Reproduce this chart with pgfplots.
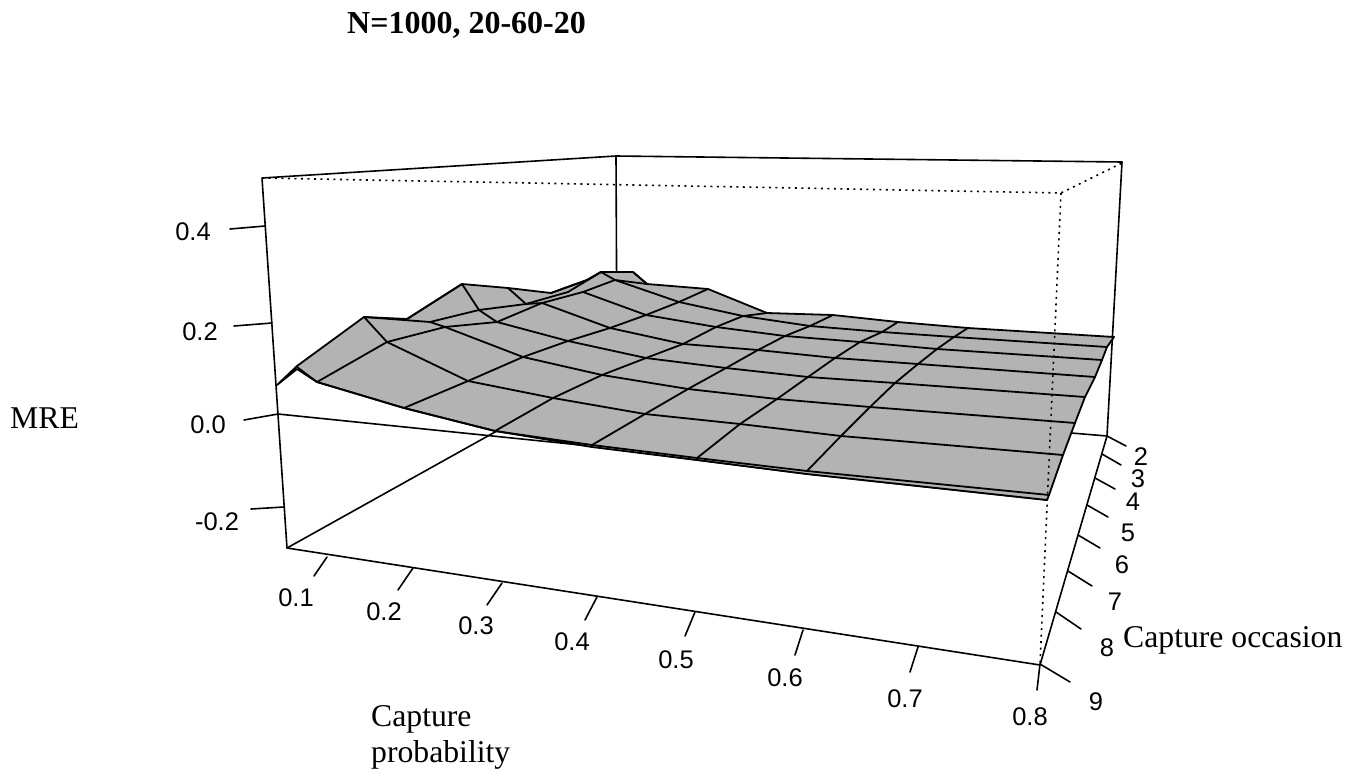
\documentclass[border=0pt]{standalone}
\usepackage{fontspec}
\usepackage{pgfplots}
\pgfplotsset{compat=1.18}
\setmainfont{Liberation Serif}
\newfontfamily\ticksfont{Liberation Sans}
\definecolor{surf}{RGB}{179,179,179}
\newcommand{\tklab}[2]{\node[anchor=center,inner sep=0pt,font=\ticksfont\fontsize{25.5}{28}\selectfont] at (axis cs:#1) {#2};}
\newcommand{\msh}[1]{\addplot[black,line width=1.8pt,line join=round,line cap=round] coordinates {#1};}
\newcommand{\bxl}[1]{\addplot[black,line width=1.6pt,line join=round,line cap=round] coordinates {#1};}
\newcommand{\dtl}[1]{\addplot[black,line width=1.6pt,dash pattern=on 2pt off 4.5pt] coordinates {#1};}
\begin{document}
\begin{tikzpicture}
\begin{axis}[
  at={(0pt,0pt)},anchor=south west,
  scale only axis,width=1361pt,height=774pt,
  xmin=0,xmax=1361,ymin=0,ymax=774,y dir=reverse,
  hide axis,clip=false]
\addplot[draw=none,forget plot] coordinates {(0,0) (1361,774)};
% box, solid edges
\bxl{(262,178) (287,548) (1040,665) (1107,436) (1122,162) (616,156) (262,178)}
\bxl{(616,156) (617,365)}
\bxl{(287,548) (617,364)}
\bxl{(617,395) (1107,436)}
% plane edge
\bxl{(278,414) (590,446) (697,460) (807,474) (1047,500)}
% surface outline
\addplot[fill=surf,draw=black,line width=1.8pt,line join=round] coordinates {
 (277,385) (297,366) (364,317) (407,319) (462,284) (508,288) (551,293) (587,280)
 (601,272) (633,272) (647,284) (708,289) (767,313) (833,315) (898,322) (968,328)
 (1114,337) (1107,347) (1102,360) (1095,377) (1085,397) (1075,423) (1063,455) (1049,495)
 (1047,500) (807,474) (697,460) (592,447) (495,431) (404,408) (317,382) (297,369)} -- cycle;
% rows
\msh{(297,367) (317,382) (404,408) (495,431) (592,445) (697,458) (807,471) (1049,495)}
\msh{(364,317) (387,342) (468,381) (553,398) (645,414) (740,424) (841,436) (1063,455)}
\msh{(430,322) (445,327) (523,357) (602,375) (688,389) (777,399) (870,407) (1075,423)}
\msh{(462,284) (479,310) (497,322) (568,341) (646,358) (726,368) (808,377) (895,383) (1085,397)}
\msh{(508,288) (526,304) (542,303) (610,328) (683,344) (758,350) (835,358) (918,364) (1095,377)}
\msh{(583,292) (646,315) (716,327) (785,336) (860,342) (937,349) (1102,360)}
\msh{(601,272) (615,280) (679,302) (743,316) (810,326) (882,332) (954,337) (1107,347)}
\msh{(633,272) (647,284)}
% columns
\msh{(407,319) (462,284)}
\msh{(551,293) (587,280) (601,272)}
\msh{(364,317) (430,322) (479,310) (526,304) (568,292) (601,272)}
\msh{(317,382) (387,342) (445,327) (497,322) (542,303) (583,292) (615,280) (647,284)}
\msh{(404,408) (468,381) (523,357) (568,341) (610,328) (646,315) (679,302) (708,289)}
\msh{(495,431) (553,398) (602,375) (646,358) (683,344) (716,327) (743,316) (767,313)}
\msh{(592,445) (645,414) (688,389) (726,368) (758,350) (785,336) (810,326) (833,315)}
\msh{(697,458) (740,424) (777,399) (808,377) (835,358) (860,342) (882,332) (898,322)}
\msh{(807,471) (841,436) (870,407) (895,383) (918,364) (937,349) (954,337) (968,328)}
% hidden box edges
\dtl{(262,178) (1061,193) (1122,163)}
\dtl{(1061,193) (1040,664)}
% z ticks
\bxl{(230,229) (265,226)}
\bxl{(234,326) (272,323)}
\bxl{(244,420) (278,414)}
\bxl{(251,509) (284,507)}
% p ticks
\bxl{(327,557) (314,576)}
\bxl{(413,568) (398,590)}
\bxl{(502,583) (487,605)}
\bxl{(597,597) (585,620)}
\bxl{(695,612) (685,636)}
\bxl{(803,630) (795,655)}
\bxl{(918,647) (910,672)}
\bxl{(1040,664) (1037,690)}
% occasion ticks
\bxl{(1107,436) (1126,446)}
\bxl{(1102,454) (1121,465)}
\bxl{(1095,478) (1115,489)}
\bxl{(1087,505) (1108,517)}
\bxl{(1078,535) (1100,548)}
\bxl{(1068,571) (1092,586)}
\bxl{(1056,612) (1081,629)}
\bxl{(1040,664) (1070,682)}
% tick labels
\tklab{193,232}{0.4}\tklab{200,332}{0.2}\tklab{208,425}{0.0}\tklab{217,522}{-0.2}
\tklab{296,598}{0.1}\tklab{384,612}{0.2}\tklab{476,626}{0.3}\tklab{572,642}{0.4}
\tklab{676,660}{0.5}\tklab{785,678}{0.6}\tklab{905,699}{0.7}\tklab{1030,717}{0.8}
\tklab{1141,457}{2}\tklab{1138,479}{3}\tklab{1133,502}{4}\tklab{1128,533}{5}
\tklab{1122,565}{6}\tklab{1115,602}{7}\tklab{1107,648}{8}\tklab{1096,702}{9}
% text
\node[anchor=base west,inner sep=0pt,font=\bfseries\fontsize{32}{34}\selectfont] at (axis cs:347,33) {N=1000, 20-60-20};
\node[anchor=base west,inner sep=0pt,font=\fontsize{31.7}{34}\selectfont] at (axis cs:10,428) {MRE};
\node[anchor=base west,inner sep=0pt,font=\fontsize{31.7}{34}\selectfont] at (axis cs:371,726) {Capture};
\node[anchor=base west,inner sep=0pt,font=\fontsize{31.7}{34}\selectfont] at (axis cs:371,762) {probability};
\node[anchor=base west,inner sep=0pt,font=\fontsize{31.7}{34}\selectfont] at (axis cs:1123,647) {Capture occasion};
\end{axis}
\end{tikzpicture}
\end{document}
